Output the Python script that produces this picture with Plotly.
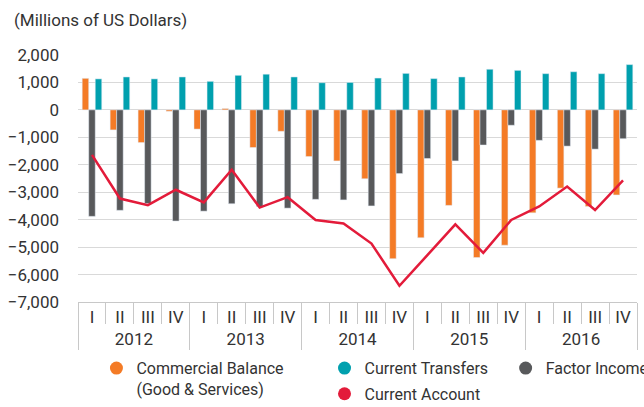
import plotly.graph_objects as go

years = ["2012"] * 4 + ["2013"] * 4 + ["2014"] * 4 + ["2015"] * 4 + ["2016"] * 4
quarters = ["I", "II", "III", "IV"] * 5

commercial = [1150, -730, -1190, -50, -700, 50, -1370, -780, -1700, -1860,
              -2510, -5420, -4660, -3480, -5380, -4930, -3750, -2850, -3520, -3100]
transfers = [1130, 1200, 1130, 1200, 1040, 1260, 1300, 1200, 990, 1000,
             1160, 1330, 1140, 1200, 1480, 1440, 1320, 1390, 1320, 1650]
factor = [-3880, -3660, -3410, -4050, -3690, -3420, -3520, -3580, -3260, -3280,
          -3500, -2320, -1770, -1860, -1280, -560, -1110, -1320, -1430, -1050]
account = [-1640, -3230, -3470, -2910, -3370, -2180, -3560, -3180, -4010, -4140,
           -4870, -6410, -5290, -4170, -5210, -4010, -3520, -2790, -3650, -2570]

ORANGE = "#F47B26"
TEAL = "#00A0AE"
DARK = "#58595B"
RED = "#E31B3A"
FONT = "Roboto, Liberation Sans, sans-serif"
FS = 17
TXT = "#333333"

x = [years, quarters]

fig = go.Figure()
fig.add_trace(go.Bar(x=x, y=commercial, marker_color=ORANGE, showlegend=False,
                     name="Commercial Balance"))
fig.add_trace(go.Bar(x=x, y=factor, marker_color=DARK, showlegend=False,
                     name="Factor Income"))
fig.add_trace(go.Bar(x=x, y=transfers, marker_color=TEAL, showlegend=False,
                     name="Current Transfers"))
fig.add_trace(go.Scatter(x=x, y=account, mode="lines", line=dict(color=RED, width=2.5),
                         showlegend=False, name="Current Account"))

# legend-only entries (circle markers)
dummy_x = [[years[0]], [quarters[0]]]
legend_items = [
    ("Commercial Balance<br>(Good & Services)", ORANGE, "legend"),
    ("Current Transfers", TEAL, "legend2"),
    ("Factor Income", DARK, "legend3"),
    ("Current Account", RED, "legend4"),
]
for name, color, lg in legend_items:
    fig.add_trace(go.Scatter(x=dummy_x, y=[None], mode="markers",
                             marker=dict(size=13, color=color, symbol="circle"),
                             name=name, legend=lg, showlegend=True))

legend_common = dict(orientation="h", xanchor="left", yanchor="top",
                     font=dict(family=FONT, size=16, color=TXT),
                     bgcolor="rgba(0,0,0,0)", valign="top", itemwidth=30)

fig.update_layout(
    width=644, height=407,
    margin=dict(l=78, r=7, t=55, b=105, autoexpand=False),
    paper_bgcolor="white", plot_bgcolor="white",
    barmode="group", bargap=0.3, bargroupgap=0,
    font=dict(family=FONT, size=FS, color=TXT),
    title=dict(text="(Millions of US Dollars)", x=14 / 644, xref="container", xanchor="left",
               y=1 - 20 / 407, yref="container", yanchor="middle",
               font=dict(family=FONT, size=FS, color=TXT)),
    xaxis=dict(type="multicategory", range=[-0.5, 19.5], autorange=False,
               showgrid=False, showline=True, linecolor="#c8c8c8",
               linewidth=1, ticks="outside", tickson="boundaries", ticklen=21,
               tickcolor="#c8c8c8", showdividers=True, dividercolor="#c8c8c8",
               dividerwidth=1, tickangle=0, automargin=False, ticklabelstandoff=0,
               tickfont=dict(family=FONT, size=FS, color=TXT)),
    yaxis=dict(range=[-7000, 2000], dtick=1000, tickformat=",d", showgrid=True,
               gridcolor="#d9d9d9", gridwidth=1, zeroline=True, zerolinecolor="#d9d9d9",
               zerolinewidth=1, showline=False, ticklabelstandoff=18, automargin=False,
               tickfont=dict(family=FONT, size=FS, color=TXT)),
    legend=dict(x=0.033, y=-0.199, **legend_common),
    legend2=dict(x=0.441, y=-0.199, **legend_common),
    legend3=dict(x=0.765, y=-0.199, **legend_common),
    legend4=dict(x=0.441, y=-0.303, **legend_common),
)

fig.write_html("out.html", config={"displayModeBar": False},
               post_script="document.body.style.margin='0';")
